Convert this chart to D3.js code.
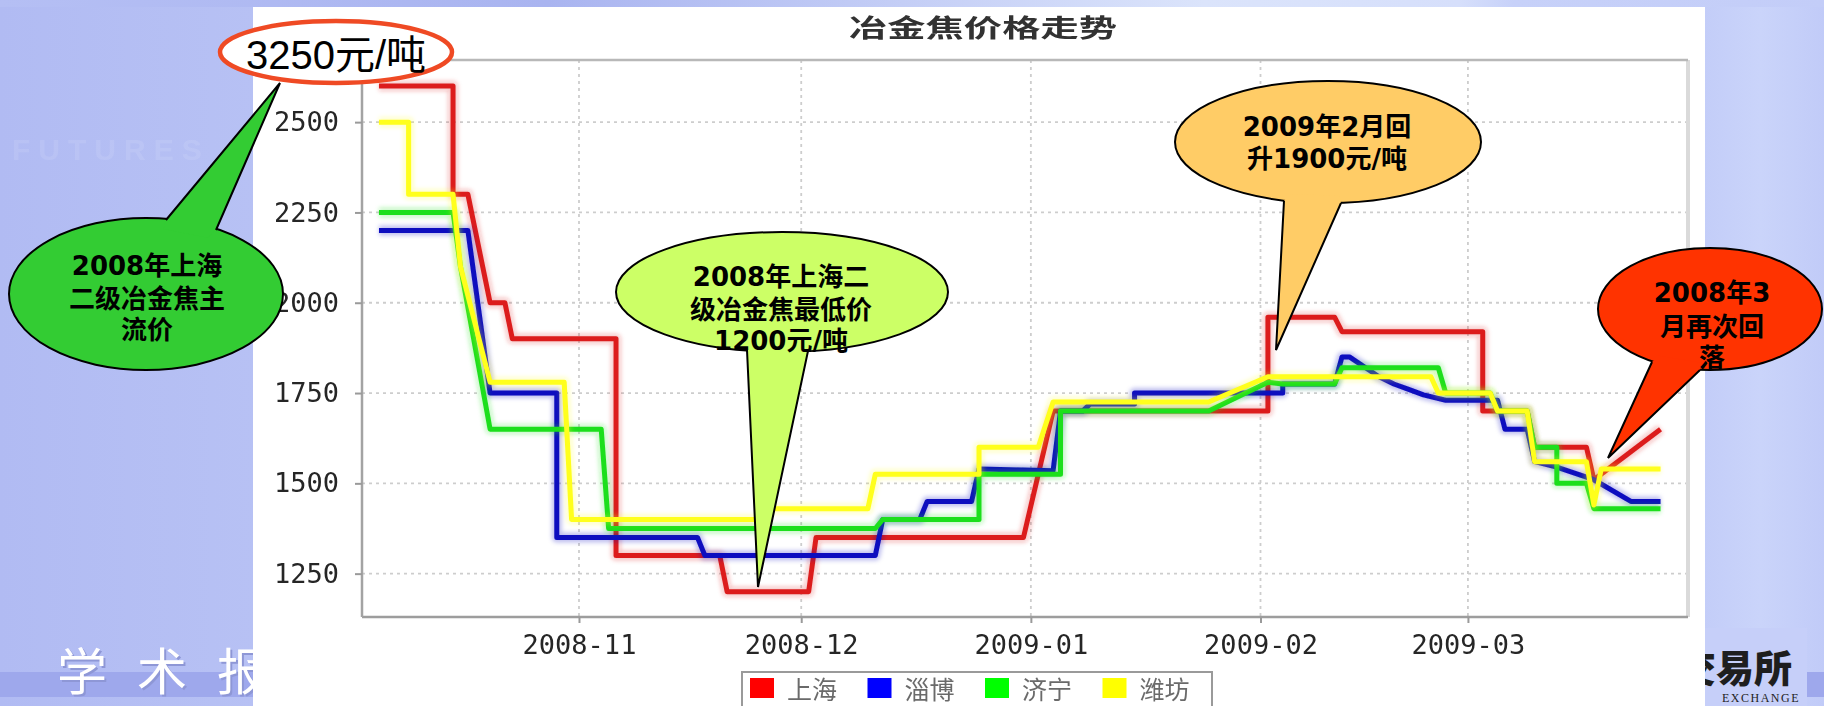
<!DOCTYPE html>
<html>
<head>
<meta charset="utf-8">
<script src="https://cdn.jsdelivr.net/npm/d3@7"></script>
<style>
  html, body { margin: 0; padding: 0; background: #b6c0f4; overflow: hidden; }
  svg { display: block; }
</style>
</head>
<body>
<svg id="slide" width="1824" height="706"></svg>
<script>
// ---- Data: metallurgical coke prices (元/吨), four markets, Oct 2008 – Mar 2009 ----
const seriesNames = ["上海", "淄博", "济宁", "潍坊"];

const shanghai = [
  ["2008-10-05", 2600], ["2008-10-15", 2600], ["2008-10-15", 2300], ["2008-10-17", 2300],
  ["2008-10-20", 2000], ["2008-10-22", 2000], ["2008-10-23", 1900], ["2008-11-06", 1900],
  ["2008-11-06", 1300], ["2008-11-20", 1300], ["2008-11-21", 1200], ["2008-12-02", 1200],
  ["2008-12-03", 1350], ["2008-12-31", 1350], ["2009-01-04", 1700], ["2009-02-02", 1700],
  ["2009-02-02", 1960], ["2009-02-11", 1960], ["2009-02-12", 1920], ["2009-03-03", 1920],
  ["2009-03-03", 1700], ["2009-03-09", 1700], ["2009-03-10", 1600], ["2009-03-17", 1600],
  ["2009-03-18", 1510], ["2009-03-27", 1650]
];

const zibo = [
  ["2008-10-05", 2200], ["2008-10-17", 2200], ["2008-10-20", 1750], ["2008-10-29", 1750],
  ["2008-10-29", 1350], ["2008-11-17", 1350], ["2008-11-18", 1300], ["2008-12-11", 1300],
  ["2008-12-12", 1400], ["2008-12-17", 1400], ["2008-12-18", 1450], ["2008-12-24", 1450],
  ["2008-12-25", 1540], ["2009-01-04", 1535], ["2009-01-05", 1700], ["2009-01-08", 1700],
  ["2009-01-09", 1720], ["2009-01-15", 1720], ["2009-01-15", 1750], ["2009-02-04", 1750],
  ["2009-02-04", 1775], ["2009-02-11", 1775], ["2009-02-12", 1850], ["2009-02-13", 1850],
  ["2009-02-17", 1795], ["2009-02-19", 1775], ["2009-02-21", 1760], ["2009-02-23", 1745],
  ["2009-02-26", 1730], ["2009-03-05", 1730], ["2009-03-06", 1650], ["2009-03-09", 1650],
  ["2009-03-10", 1560], ["2009-03-13", 1545], ["2009-03-18", 1510], ["2009-03-23", 1450],
  ["2009-03-27", 1450]
];

const jining = [
  ["2008-10-05", 2250], ["2008-10-15", 2250], ["2008-10-16", 2100], ["2008-10-20", 1650],
  ["2008-11-04", 1650], ["2008-11-05", 1375], ["2008-12-11", 1375], ["2008-12-12", 1400],
  ["2008-12-25", 1400], ["2008-12-25", 1525], ["2009-01-05", 1525], ["2009-01-05", 1700],
  ["2009-01-25", 1700], ["2009-02-02", 1780], ["2009-02-04", 1775], ["2009-02-11", 1775],
  ["2009-02-12", 1820], ["2009-02-25", 1820], ["2009-02-26", 1750], ["2009-03-04", 1750],
  ["2009-03-05", 1700], ["2009-03-09", 1700], ["2009-03-10", 1600], ["2009-03-13", 1600],
  ["2009-03-13", 1500], ["2009-03-17", 1500], ["2009-03-18", 1430], ["2009-03-27", 1430]
];

const weifang = [
  ["2008-10-05", 2500], ["2008-10-09", 2500], ["2008-10-09", 2300], ["2008-10-15", 2300],
  ["2008-10-16", 2100], ["2008-10-20", 1780], ["2008-10-30", 1780], ["2008-10-31", 1400],
  ["2008-11-25", 1400], ["2008-11-27", 1430], ["2008-12-10", 1430], ["2008-12-11", 1525],
  ["2008-12-25", 1525], ["2008-12-25", 1600], ["2009-01-02", 1600], ["2009-01-04", 1725],
  ["2009-01-25", 1725], ["2009-02-02", 1795], ["2009-02-24", 1795], ["2009-02-25", 1750],
  ["2009-03-04", 1750], ["2009-03-05", 1700], ["2009-03-09", 1700], ["2009-03-10", 1560],
  ["2009-03-17", 1560], ["2009-03-18", 1440], ["2009-03-19", 1540], ["2009-03-27", 1540]
];

const yTicks = [1250, 1500, 1750, 2000, 2250, 2500];
const monthTicks = ["2008-11", "2008-12", "2009-01", "2009-02", "2009-03"];

const chartTitle = "冶金焦价格走势";
const peakLabel = "3250元/吨";
const noteMainPrice = ["2008年上海", "二级冶金焦主", "流价"];
const noteLowest = ["2008年上海二", "级冶金焦最低价", "1200元/吨"];
const noteFebRise = ["2009年2月回", "升1900元/吨"];
const noteMarFall = ["2008年3", "月再次回", "落"];

// ---- Styling ----
const lineColors = ["#dc1e1e", "#0d0dbf", "#1edf1e", "#ffff1a"];
const swatchColors = ["#ff0000", "#0000ff", "#00ff00", "#ffff00"];
const CJK = "'Noto Sans CJK SC', sans-serif";
const MONO = "'DejaVu Sans Mono', monospace";
const BOLD_MIX = "'DejaVu Sans', 'Noto Sans CJK SC', sans-serif";

const W = 1824, H = 706;
const panel = { x: 253, y: 7, w: 1452, h: 699 };
const plot = { left: 362, top: 60, right: 1688, bottom: 617 };

const svg = d3.select("#slide");
const defs = svg.append("defs");

function gradient(id, stops) {
  const g = defs.append("linearGradient").attr("id", id)
    .attr("x1", 0).attr("y1", 0).attr("x2", 1).attr("y2", 0);
  stops.forEach(([o, c]) => g.append("stop").attr("offset", o).attr("stop-color", c));
}
gradient("bgGrad", [[0, "#b1bbf3"], [0.14, "#b7c1f4"], [0.93, "#c2ccf8"], [0.965, "#cad4fa"], [1, "#c1cbf8"]]);
gradient("topGrad", [[0, "#b5bff4"], [0.3, "#a9b4f0"], [0.66, "#dbe4fb"], [0.8, "#d6dffb"], [0.83, "#c7d1f9"], [1, "#c3cdf8"]]);

// blur filters with a generous region so translated groups are never clipped
function blurFilter(id, sd) {
  defs.append("filter").attr("id", id).attr("filterUnits", "userSpaceOnUse")
    .attr("x", -2 * W).attr("y", -2 * H).attr("width", 5 * W).attr("height", 5 * H)
    .append("feGaussianBlur").attr("stdDeviation", sd);
}
blurFilter("soft", 0.7);
blurFilter("textSoft", 0.45);
blurFilter("glow", 2.2);

// ---- Slide background ----
svg.append("rect").attr("width", W).attr("height", H).attr("fill", "url(#bgGrad)");
svg.append("rect").attr("width", W).attr("height", panel.y).attr("fill", "url(#topGrad)");

// faint watermark lettering
svg.append("text").attr("x", 12).attr("y", 160)
  .attr("font-family", "'Liberation Sans', sans-serif").attr("font-size", 30).attr("font-weight", 700)
  .attr("letter-spacing", 8).attr("fill", "#ffffff").attr("opacity", 0.09).text("FUTURES");

// bottom band
svg.append("rect").attr("x", 0).attr("y", 672).attr("width", W).attr("height", 25).attr("fill", "#9ea8ec");

// bottom-left slide caption
const cap = svg.append("g").attr("font-family", CJK).attr("font-size", 50).attr("letter-spacing", 30);
cap.append("text").attr("x", 59).attr("y", 692).attr("fill", "#8e97d6").text("学术报告");
cap.append("text").attr("x", 57).attr("y", 690).attr("fill", "#ffffff").text("学术报告");

// bottom-right logo
svg.append("rect").attr("x", 1705).attr("y", 628).attr("width", 102).attr("height", 78).attr("fill", "#c6cff9");
svg.append("text").attr("x", 1792).attr("y", 682).attr("text-anchor", "end")
  .attr("font-family", CJK).attr("font-weight", 900).attr("font-size", 38).attr("fill", "#1e1e1e")
  .text("交易所");
svg.append("text").attr("x", 1800).attr("y", 702).attr("text-anchor", "end")
  .attr("font-family", "'Liberation Serif', serif").attr("font-size", 12).attr("letter-spacing", 1.5)
  .attr("fill", "#222").text("EXCHANGE");

// ---- Chart panel ----
svg.append("rect").attr("x", panel.x).attr("y", panel.y).attr("width", panel.w).attr("height", panel.h).attr("fill", "#ffffff");

const chart = svg.append("g");

const parseDay = d3.timeParse("%Y-%m-%d");
const parseMonth = d3.timeParse("%Y-%m");

const x = d3.scaleTime()
  .domain([new Date(2008, 9, 2, 17), new Date(2009, 2, 30, 17)])
  .range([plot.left, plot.right]);
const y = d3.scaleLinear().domain([1130, 2672]).range([plot.bottom, plot.top]);

// title
chart.append("text").attr("x", 849).attr("y", 37)
  .attr("font-family", CJK).attr("font-weight", 700).attr("font-size", 25)
  .attr("textLength", 268).attr("lengthAdjust", "spacingAndGlyphs")
  .attr("fill", "#333").attr("filter", "url(#textSoft)").text(chartTitle);

// gridlines
const grid = chart.append("g").attr("stroke", "#cdcdcd").attr("stroke-width", 1.8)
  .attr("stroke-dasharray", "3 4").attr("filter", "url(#textSoft)");
grid.selectAll(".gy").data(yTicks).join("line")
  .attr("x1", plot.left).attr("x2", plot.right)
  .attr("y1", d => y(d)).attr("y2", d => y(d));
grid.selectAll(".gx").data(monthTicks.map(parseMonth)).join("line")
  .attr("x1", d => x(d)).attr("x2", d => x(d))
  .attr("y1", plot.top).attr("y2", plot.bottom);

// plot frame
chart.append("line").attr("x1", plot.right).attr("x2", plot.right).attr("y1", plot.top).attr("y2", plot.bottom)
  .attr("stroke", "#dadada").attr("stroke-width", 4);
chart.append("line").attr("x1", plot.left).attr("x2", plot.right).attr("y1", plot.top).attr("y2", plot.top)
  .attr("stroke", "#b8b8b8").attr("stroke-width", 2.5);
chart.append("line").attr("x1", plot.left).attr("x2", plot.right).attr("y1", plot.bottom).attr("y2", plot.bottom)
  .attr("stroke", "#9d9d9d").attr("stroke-width", 2.5);
chart.append("line").attr("x1", plot.left).attr("x2", plot.left).attr("y1", plot.top).attr("y2", plot.bottom)
  .attr("stroke", "#a3a3a3").attr("stroke-width", 2.5);

// axes
const yAxis = d3.axisLeft(y).tickValues(yTicks).tickFormat(d3.format("d")).tickSize(7).tickPadding(16);
const gy = chart.append("g").attr("transform", `translate(${plot.left},0)`).call(yAxis);
const xAxis = d3.axisBottom(x).tickValues(monthTicks.map(parseMonth))
  .tickFormat(d3.timeFormat("%Y-%m")).tickSize(6).tickPadding(12);
const gx = chart.append("g").attr("transform", `translate(0,${plot.bottom})`).call(xAxis);
[gx, gy].forEach(g => {
  g.select(".domain").remove();
  g.selectAll(".tick line").attr("stroke", "#9a9a9a").attr("stroke-width", 2);
  g.selectAll(".tick text").attr("font-family", MONO).attr("font-size", 27)
    .attr("fill", "#262626").attr("filter", "url(#textSoft)");
});

// series lines
const line = d3.line().x(d => x(parseDay(d[0]))).y(d => y(d[1]));
const allSeries = [shanghai, zibo, jining, weifang];
const lineG = chart.append("g").attr("fill", "none").attr("stroke-linejoin", "round");
allSeries.forEach((s, i) => {
  lineG.append("path").attr("d", line(s)).attr("stroke", lineColors[i])
    .attr("stroke-width", 10).attr("stroke-opacity", 0.25).attr("filter", "url(#glow)");
  lineG.append("path").attr("d", line(s)).attr("stroke", lineColors[i])
    .attr("stroke-width", 5).attr("filter", "url(#soft)");
});

// legend
const legend = chart.append("g");
legend.append("rect").attr("x", 742).attr("y", 672).attr("width", 470).attr("height", 60)
  .attr("fill", "#fff").attr("stroke", "#9a9a9a").attr("stroke-width", 2);
const item = legend.selectAll(".item").data(seriesNames).join("g")
  .attr("transform", (d, i) => `translate(${750 + i * 117.5},0)`);
item.append("rect").attr("x", 0).attr("y", 678).attr("width", 24).attr("height", 20)
  .attr("fill", (d, i) => swatchColors[i]).attr("filter", "url(#textSoft)");
item.append("text").attr("x", 37).attr("y", 699).attr("font-family", CJK).attr("font-size", 25)
  .attr("fill", "#6b6b6b").attr("filter", "url(#textSoft)").text(d => d);

// ---- Callouts ----
function callout(o) {
  const g = svg.append("g");
  g.append("ellipse").attr("cx", o.cx).attr("cy", o.cy).attr("rx", o.rx).attr("ry", o.ry)
    .attr("fill", o.fill).attr("stroke", "#000").attr("stroke-width", 2);
  const inner = p => [o.cx + (p[0] - o.cx) * 0.88, o.cy + (p[1] - o.cy) * 0.88];
  g.append("polygon")
    .attr("points", [o.b1, o.tip, o.b2, inner(o.b2), inner(o.b1)].map(p => p.join(",")).join(" "))
    .attr("fill", o.fill);
  g.append("polyline").attr("points", [o.b1, o.tip, o.b2].map(p => p.join(",")).join(" "))
    .attr("fill", "none").attr("stroke", "#000").attr("stroke-width", 2).attr("stroke-linejoin", "miter");
  g.selectAll("text").data(o.lines).join("text")
    .attr("x", o.tx).attr("y", (d, i) => o.ty[i]).attr("text-anchor", "middle")
    .attr("dominant-baseline", "central")
    .attr("font-family", BOLD_MIX).attr("font-weight", 700).attr("font-size", 26).attr("fill", "#000")
    .text(d => d);
}

callout({ cx: 146, cy: 294, rx: 137, ry: 76, b1: [166, 220], b2: [216, 230], tip: [280, 83],
  fill: "#33cc33", lines: noteMainPrice, tx: 147, ty: [266, 299, 330] });
callout({ cx: 782, cy: 292, rx: 166, ry: 60, b1: [747, 350], b2: [808, 351], tip: [758, 587],
  fill: "#ccff66", lines: noteLowest, tx: 781, ty: [277, 310, 341] });
callout({ cx: 1328, cy: 142, rx: 153, ry: 61, b1: [1284, 201], b2: [1341, 203], tip: [1276, 350],
  fill: "#ffcc66", lines: noteFebRise, tx: 1327, ty: [127, 159] });
callout({ cx: 1710, cy: 309, rx: 112, ry: 61, b1: [1652, 362], b2: [1700, 370], tip: [1608, 458],
  fill: "#ff3300", lines: noteMarFall, tx: 1712, ty: [293, 327, 358] });

// peak price marker
svg.append("ellipse").attr("cx", 336).attr("cy", 52).attr("rx", 116).attr("ry", 31)
  .attr("fill", "#fff").attr("stroke", "#ef4a24").attr("stroke-width", 4.5);
svg.append("text").attr("x", 336).attr("y", 69).attr("text-anchor", "middle")
  .attr("font-family", "'Liberation Sans', 'Noto Sans CJK SC', sans-serif").attr("font-size", 40)
  .attr("fill", "#000").text(peakLabel);
</script>
</body>
</html>
